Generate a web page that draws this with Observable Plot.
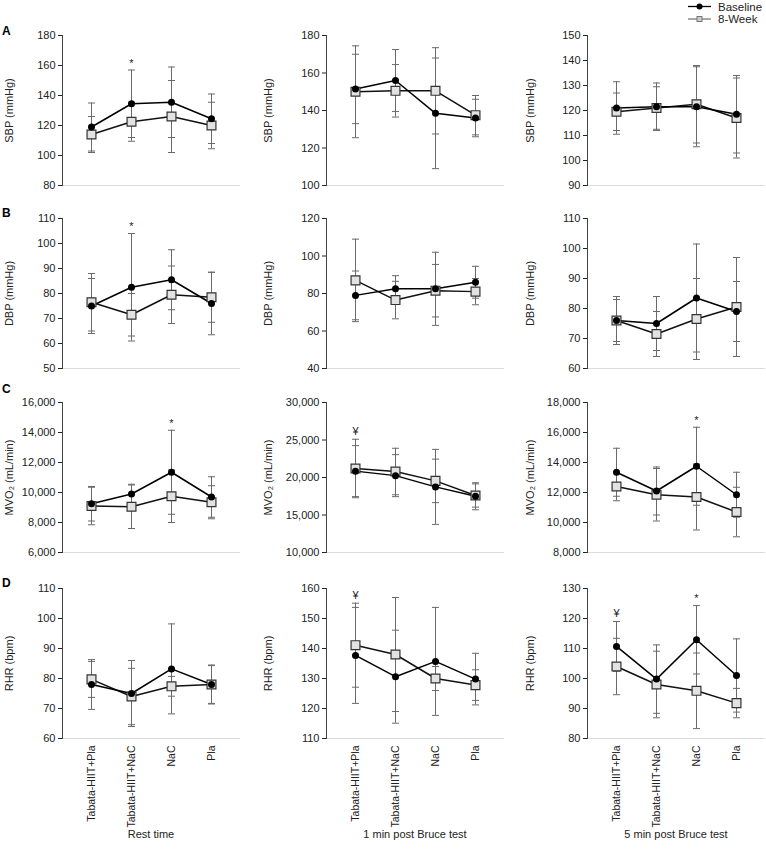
<!DOCTYPE html>
<html><head><meta charset="utf-8">
<script src="https://cdn.jsdelivr.net/npm/d3@7"></script>
<script src="https://cdn.jsdelivr.net/npm/@observablehq/plot@0.6"></script>
<style>
body{margin:0;background:#fff;font-family:"Liberation Sans",Arial,sans-serif;}
#fig{position:relative;width:766px;height:865px;overflow:hidden;background:#fff;}
.panel{position:absolute;}
.panel svg{overflow:visible;}
#overlay{position:absolute;left:0;top:0;}
</style></head><body><div id="fig"></div>
<script>
// ---- categories and labels ----
const groups = ["Tabata-HIIT+Pla", "Tabata-HIIT+NaC", "NaC", "Pla"];
const seriesNames = ["Baseline", "8-Week"];
const columnTitles = ["Rest time", "1 min post Bruce test", "5 min post Bruce test"];
const rowLetters = ["A", "B", "C", "D"];
const yLabels = ["SBP (mmHg)", "DBP (mmHg)", "MVO₂ (mL/min)", "RHR (bpm)"];

// ---- y scales (domain and tick labels) ----
const sbpRestTicks = [80, 100, 120, 140, 160, 180];
const sbp1Ticks = [100, 120, 140, 160, 180];
const sbp5Ticks = [90, 100, 110, 120, 130, 140, 150];
const dbpRestTicks = [50, 60, 70, 80, 90, 100, 110];
const dbp1Ticks = [40, 60, 80, 100, 120];
const dbp5Ticks = [60, 70, 80, 90, 100, 110];
const mvoRestTicks = [6000, 8000, 10000, 12000, 14000, 16000];
const mvo1Ticks = [10000, 15000, 20000, 25000, 30000];
const mvo5Ticks = [8000, 10000, 12000, 14000, 16000, 18000];
const rhrRestTicks = [60, 70, 80, 90, 100, 110];
const rhr1Ticks = [110, 120, 130, 140, 150, 160];
const rhr5Ticks = [80, 90, 100, 110, 120, 130];

// ---- values: means and SD for Baseline and 8-Week; significance marks ----
const sbpRest = {base: [119, 134.5, 135.5, 124.5], baseSd: [16, 22.5, 23.5, 16.5], week8: [114, 122.5, 126, 120], week8Sd: [12, 13, 24, 15.5], sig: ["", "*", "", ""]};
const sbp1 = {base: [151.5, 156, 138.5, 136], baseSd: [18.5, 16.5, 29.5, 10], week8: [150, 150.5, 150.5, 137.5], week8Sd: [24.5, 14, 23, 10.5], sig: ["", "", "", ""]};
const sbp5 = {base: [121, 121.5, 121.5, 118.5], baseSd: [10.5, 9.5, 16, 15.5], week8: [119.5, 121, 122.5, 117], week8Sd: [7.5, 8.5, 15.5, 16], sig: ["", "", "", ""]};

const dbpRest = {base: [75, 82.5, 85.5, 76], baseSd: [11, 21.5, 12, 12.5], week8: [76.5, 71.5, 79.5, 78.5], week8Sd: [11.5, 8.5, 11.5, 10], sig: ["", "*", "", ""]};
const dbp1 = {base: [79, 82.5, 82.5, 86], baseSd: [13, 7, 19.5, 8.5], week8: [87, 76.5, 81.5, 81], week8Sd: [22, 10, 14, 7], sig: ["", "", "", ""]};
const dbp5 = {base: [76, 75, 83.5, 79], baseSd: [8, 9, 18, 10], week8: [76, 71.5, 76.5, 80.5], week8Sd: [7, 7.5, 13.5, 16.5], sig: ["", "", "", ""]};

const mvoRest = {base: [9250, 9900, 11350, 9700], baseSd: [1150, 650, 2800, 1350], week8: [9100, 9050, 9750, 9350], week8Sd: [1250, 1450, 1750, 1100], sig: ["", "", "*", ""]};
const mvo1 = {base: [20850, 20250, 18750, 17500], baseSd: [3400, 2800, 5000, 1800], week8: [21200, 20800, 19550, 17600], week8Sd: [3900, 3100, 2900, 1550], sig: ["¥", "", "", ""]};
const mvo5 = {base: [13350, 12100, 13750, 11850], baseSd: [1600, 1600, 2600, 1500], week8: [12400, 11850, 11700, 10700], week8Sd: [950, 1750, 2200, 1650], sig: ["", "", "*", ""]};

const rhrRest = {base: [78, 75, 83.2, 78], baseSd: [8.3, 11, 15, 6.5], week8: [79.7, 74, 77.4, 78], week8Sd: [6, 9.4, 3.3, 6.3], sig: ["", "", "", ""]};
const rhr1 = {base: [137.7, 130.6, 135.7, 129.8], baseSd: [16, 15.5, 18, 8.6], week8: [141.1, 138, 130, 127.8], week8Sd: [14, 19, 4, 5.1], sig: ["¥", "", "", ""]};
const rhr5 = {base: [110.7, 99.8, 112.9, 101], baseSd: [8.3, 11.4, 11.4, 12.2], week8: [104, 98, 95.9, 91.8], week8Sd: [9.4, 11.1, 12.6, 4.9], sig: ["¥", "", "*", ""]};

const grid = [
  [[sbpRest, sbpRestTicks], [sbp1, sbp1Ticks], [sbp5, sbp5Ticks]],
  [[dbpRest, dbpRestTicks], [dbp1, dbp1Ticks], [dbp5, dbp5Ticks]],
  [[mvoRest, mvoRestTicks], [mvo1, mvo1Ticks], [mvo5, mvo5Ticks]],
  [[rhrRest, rhrRestTicks], [rhr1, rhr1Ticks], [rhr5, rhr5Ticks]]
];

// ---- layout ----
const FONT = "'Liberation Sans', Arial, sans-serif";
const colAxisX = [62, 326, 587];
const rowTopY = [35, 218, 402, 588];
const labelOffsets = [57, 62, 61];
const ML = 62, MR = 2, MT = 10, PW = 177, PH = 150;

// horizontal cap symbol for the error bars
const capSymbol = {
  draw(context, size) {
    const w = Math.sqrt(size / Math.PI);
    context.moveTo(-w, 0);
    context.lineTo(w, 0);
  }
};

const fig = document.getElementById("fig");

function makePanel(d, ticks, row, col) {
  const recs = groups.flatMap((g, i) => [
    {g, s: seriesNames[0], m: d.base[i], sd: d.baseSd[i]},
    {g, s: seriesNames[1], m: d.week8[i], sd: d.week8Sd[i]}
  ]);
  const base = recs.filter(r => r.s === seriesNames[0]);
  const wk = recs.filter(r => r.s === seriesNames[1]);
  const sig = groups.map((g, i) => ({g, t: d.sig[i], y: Math.max(d.base[i] + d.baseSd[i], d.week8[i] + d.week8Sd[i])})).filter(r => r.t);
  const bottom = row === 3;
  const MB = bottom ? 112 : 8;
  const plot = Plot.plot({
    width: ML + PW + MR, height: MT + PH + MB,
    marginTop: MT, marginBottom: MB, marginLeft: ML, marginRight: MR,
    style: {fontFamily: FONT, fontSize: "11px", color: "#222", background: "transparent", overflow: "visible"},
    x: {type: "point", domain: groups, padding: 0.67, axis: null},
    y: {domain: [ticks[0], ticks[ticks.length - 1]], axis: null},
    marks: [
      Plot.frame({anchor: "bottom", stroke: "#dcdcdc"}),
      Plot.frame({anchor: "left", stroke: "#444"}),
      Plot.axisY({ticks: ticks, tickSize: 4, tickPadding: 3, tickFormat: d3.format(","), fontSize: 11,
        label: yLabels[row], labelAnchor: "center", labelOffset: labelOffsets[col], labelArrow: false}),
      bottom ? Plot.axisX({tickRotate: -90, tickSize: 0, tickPadding: 7, fontSize: 10.5,
        label: null}) : null,
      bottom ? Plot.axisX({ticks: [], tickSize: 0, label: columnTitles[col], labelAnchor: "center",
        labelOffset: 99, labelArrow: false, fontSize: 11}) : null,
      Plot.ruleX(recs, {x: "g", y1: r => r.m - r.sd, y2: r => r.m + r.sd, stroke: "#6a6a6a", strokeWidth: 1}),
      Plot.dot(recs, {x: "g", y: r => r.m + r.sd, symbol: capSymbol, r: 3.5, fill: "none", stroke: "#6a6a6a", strokeWidth: 1}),
      Plot.dot(recs, {x: "g", y: r => r.m - r.sd, symbol: capSymbol, r: 3.5, fill: "none", stroke: "#6a6a6a", strokeWidth: 1}),
      Plot.line(wk, {x: "g", y: "m", stroke: "#111", strokeWidth: 1.5}),
      Plot.line(base, {x: "g", y: "m", stroke: "#000", strokeWidth: 1.5}),
      Plot.dot(wk, {x: "g", y: "m", symbol: "square", r: 5, fill: "#e2e2e2", stroke: "#333", strokeWidth: 1.2}),
      Plot.dot(base, {x: "g", y: "m", r: 3.5, fill: "#000", stroke: "none"}),
      Plot.text(sig.filter(s => s.t === "*"), {x: "g", y: "y", text: "t", dy: -7, fontSize: 11, fill: "#222"}),
      Plot.text(sig.filter(s => s.t !== "*"), {x: "g", y: "y", text: "t", dy: -8, fontSize: 11, fill: "#222"})
    ]
  });
  const div = document.createElement("div");
  div.className = "panel";
  div.style.left = (colAxisX[col] - ML) + "px";
  div.style.top = (rowTopY[row] - MT) + "px";
  div.appendChild(plot);
  fig.appendChild(div);
}

grid.forEach((rowArr, r) => rowArr.forEach(([d, t], c) => makePanel(d, t, r, c)));

// ---- overlay: panel letters and legend ----
const letterY = [35, 217, 393, 587];
const ov = d3.select(fig).append("svg").attr("id", "overlay").attr("width", 766).attr("height", 865)
  .style("font-family", FONT);
ov.selectAll("text.letter").data(rowLetters).join("text").attr("class", "letter")
  .attr("x", 2).attr("y", (d, i) => letterY[i]).attr("font-size", 12).attr("font-weight", "bold").text(d => d);

const lg = ov.append("g");
const legY = [6.5, 19];
lg.append("line").attr("x1", 688).attr("x2", 711).attr("y1", legY[0]).attr("y2", legY[0]).attr("stroke", "#000").attr("stroke-width", 1.3);
lg.append("circle").attr("cx", 699.5).attr("cy", legY[0]).attr("r", 3).attr("fill", "#000");
lg.append("text").attr("x", 718).attr("y", legY[0]).attr("dy", "0.35em").attr("font-size", 11.5).attr("fill", "#222").text(seriesNames[0]);
lg.append("line").attr("x1", 688).attr("x2", 711).attr("y1", legY[1]).attr("y2", legY[1]).attr("stroke", "#777").attr("stroke-width", 1.3);
lg.append("rect").attr("x", 697).attr("y", legY[1] - 2.5).attr("width", 5).attr("height", 5).attr("fill", "#ccc").attr("stroke", "#777");
lg.append("text").attr("x", 718).attr("y", legY[1]).attr("dy", "0.35em").attr("font-size", 11.5).attr("fill", "#222").text(seriesNames[1]);
</script></body></html>
